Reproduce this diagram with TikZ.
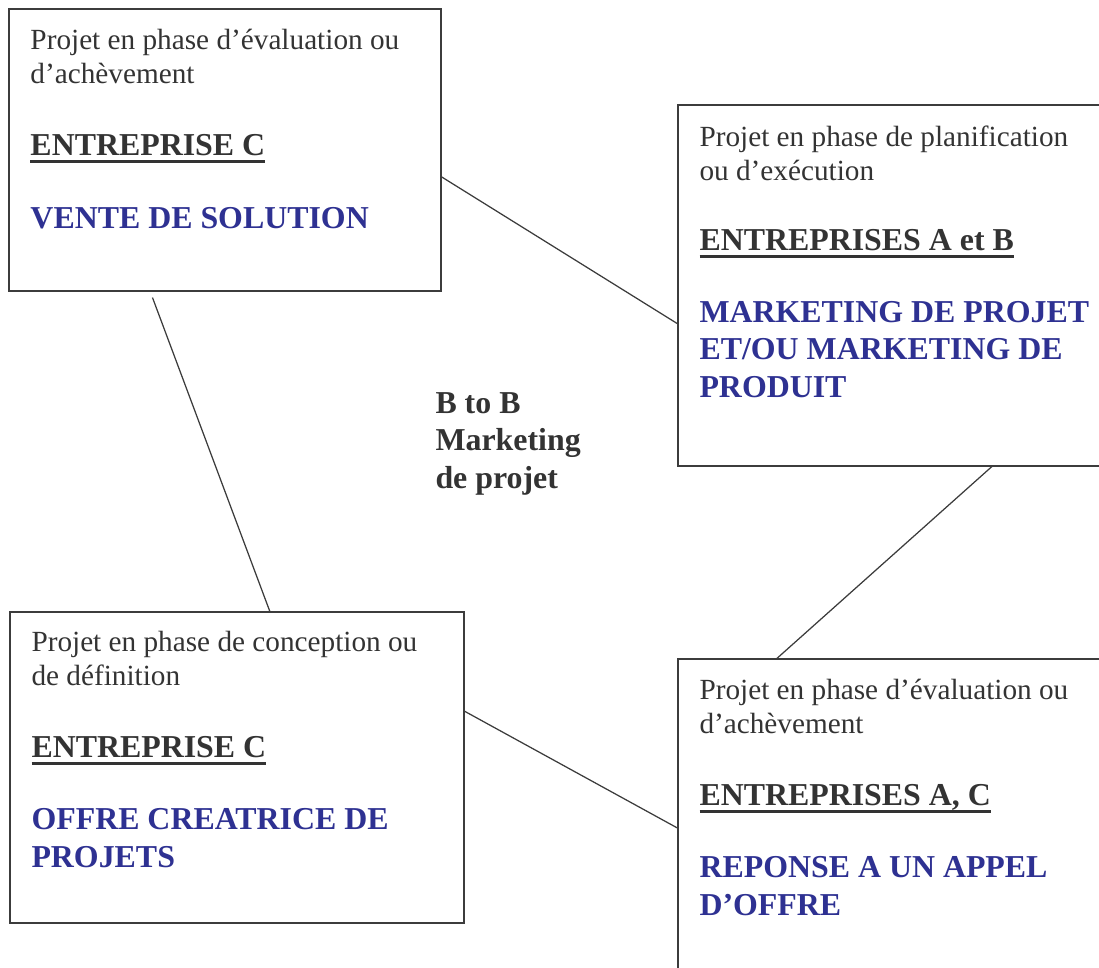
\documentclass[tikz,border=0pt]{standalone}
\usepackage{fontspec}
\setmainfont{Liberation Serif}
\usepackage{tikz}
\usetikzlibrary{
    positioning
}
\definecolor{txtgray}{HTML}{333333}
\definecolor{lnegray}{HTML}{3C3C3C}
\definecolor{offerblue}{HTML}{2E3192}
\newcommand{\ulin}[1]{\setbox0\hbox{#1}\rlap{\copy0}\rule[-3pt]{\wd0}{1.2pt}}

\begin{document}
\begin{tikzpicture}[x=0.4pt,y=-0.4pt,
    stage/.style={draw=lnegray,line width=0.8pt,inner sep=0pt,outer sep=0pt},
    phase/.style={anchor=base west,inner sep=0pt,align=left,text=txtgray,
        font={\fontsize{11.7pt}{13.6pt}\selectfont}},
    firm/.style={anchor=base west,inner sep=0pt,text=txtgray,
        font={\fontsize{12.75pt}{15pt}\selectfont\bfseries}},
    offer/.style={anchor=base west,inner sep=0pt,align=left,text=offerblue,
        font={\fontsize{12.75pt}{15pt}\selectfont\bfseries}},
    link/.style={draw=lnegray,line width=0.5pt}]
    \useasboundingbox (0,0) rectangle (1099,967);
    \node[stage,minimum width=172.8pt,minimum height=112.8pt] (close1) at (225,150) {};
    \node[stage,minimum width=174.8pt,minimum height=144.4pt] (plan) at (896.5,285.5) {};
    \node[stage,minimum width=181.6pt,minimum height=124.4pt] (design) at (237,767.5) {};
    \node[stage,minimum width=174.8pt,minimum height=132.4pt] (close2) at (896.5,824.5) {};

    % base = baseline of the last line
    \node[phase] (close1ph) at (30,83) {Projet en phase d’évaluation ou\\d’achèvement};
    \node[firm] (close1fm) at (30,155) {\ulin{ENTREPRISE C}};
    \node[offer] (close1of) at (30,228) {VENTE DE SOLUTION};

    \node[phase] (planph) at (699,180) {Projet en phase de planification\\ou d’exécution};
    \node[firm] (planfm) at (699,250) {\ulin{ENTREPRISES A et B}};
    \node[offer] (planof) at (699,397) {MARKETING DE PROJET\\ET/OU MARKETING DE\\PRODUIT};

    \node[phase] (designph) at (31,685) {Projet en phase de conception ou\\de définition};
    \node[firm] (designfm) at (31,757) {\ulin{ENTREPRISE C}};
    \node[offer] (designof) at (31,867) {OFFRE CREATRICE DE\\PROJETS};

    \node[phase] (close2ph) at (699,733) {Projet en phase d’évaluation ou\\d’achèvement};
    \node[firm] (close2fm) at (699,805) {\ulin{ENTREPRISES A, C}};
    \node[offer] (close2of) at (699,915) {REPONSE A UN APPEL\\D’OFFRE};

    \node[firm,align=left] (btob) at (435,488) {B to B\\Marketing\\de projet};

    \draw[link] (close1.-7.9) -- (plan.-170.5);
    \draw[link,shorten <=2.8pt] (close1.-118) -- (design.78);
    \draw[link] (plan.-62.4) -- (close2.126.3);
    \draw[link] (design.14.7) -- (close2.-179.3);
\end{tikzpicture}
\end{document}
